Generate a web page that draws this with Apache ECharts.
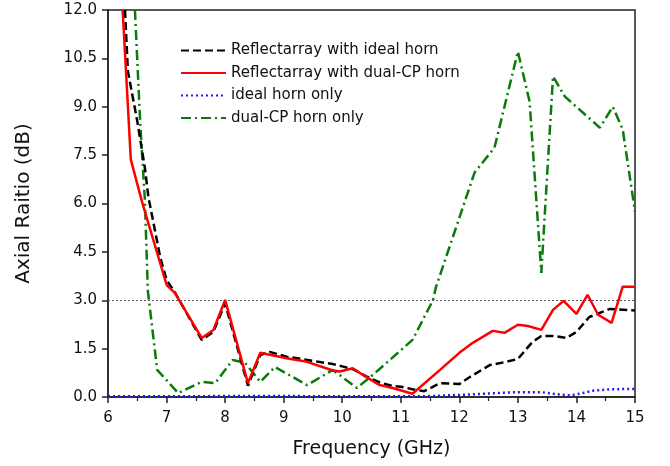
<!DOCTYPE html>
<html>
<head>
<meta charset="utf-8">
<script src="https://cdn.jsdelivr.net/npm/echarts@6/dist/echarts.min.js"></script>
<style>
html,body{margin:0;padding:0;background:#fff;}
#c{width:670px;height:466px;}
</style>
</head>
<body>
<div id="c"></div>
<script>
// Frequency (GHz) / Axial ratio (dB) readings for each series
var freqIdeal = [6.29, 6.34, 6.5, 6.63, 6.69, 6.89, 7.0, 7.14, 7.6, 7.8, 8.0, 8.39, 8.6, 8.76, 9.05, 9.4, 9.84, 10.0, 10.2, 10.4, 10.64, 10.86, 11.0, 11.2, 11.4, 11.67, 12.0, 12.18, 12.52, 12.8, 13.0, 13.25, 13.4, 13.63, 13.83, 14.0, 14.22, 14.57, 15.0];
var arIdeal   = [12.0, 10.1, 8.55, 7.1, 6.2, 4.35, 3.63, 3.25, 1.77, 2.02, 2.9, 0.35, 1.3, 1.4, 1.25, 1.15, 1.02, 0.95, 0.85, 0.65, 0.45, 0.34, 0.32, 0.24, 0.18, 0.43, 0.4, 0.62, 0.99, 1.09, 1.18, 1.71, 1.89, 1.89, 1.83, 2.02, 2.48, 2.73, 2.68];

var freqDual = [6.25, 6.39, 6.58, 7.0, 7.14, 7.6, 7.8, 8.0, 8.39, 8.6, 9.05, 9.4, 9.84, 9.96, 10.18, 10.4, 10.64, 10.86, 11.2, 11.67, 12.0, 12.23, 12.57, 12.77, 13.0, 13.17, 13.4, 13.6, 13.78, 14.0, 14.19, 14.37, 14.6, 14.79, 15.0];
var arDual   = [12.0, 7.36, 6.06, 3.48, 3.23, 1.83, 2.08, 3.01, 0.43, 1.37, 1.2, 1.09, 0.82, 0.79, 0.89, 0.63, 0.37, 0.28, 0.1, 0.84, 1.37, 1.68, 2.05, 1.99, 2.24, 2.2, 2.08, 2.7, 2.98, 2.58, 3.17, 2.55, 2.3, 3.42, 3.42];

var freqHorn = [6.0, 7.0, 8.0, 9.0, 10.0, 11.0, 11.4, 11.8, 12.2, 12.6, 13.0, 13.4, 13.7, 13.9, 14.1, 14.3, 14.6, 15.0];
var arHorn   = [0.02, 0.02, 0.03, 0.03, 0.02, 0.02, 0.02, 0.05, 0.08, 0.12, 0.15, 0.15, 0.08, 0.05, 0.12, 0.2, 0.24, 0.25];

var freqDualHorn = [6.46, 6.55, 6.63, 6.68, 6.84, 7.2, 7.6, 7.83, 8.13, 8.34, 8.6, 8.85, 9.4, 9.84, 10.25, 10.52, 11.2, 11.55, 11.6, 12.26, 12.6, 13.0, 13.2, 13.4, 13.6, 13.8, 14.4, 14.62, 14.79, 15.0];
var arDualHorn   = [12.0, 8.5, 6.1, 3.3, 0.84, 0.12, 0.47, 0.43, 1.15, 1.06, 0.47, 0.93, 0.37, 0.84, 0.28, 0.68, 1.77, 3.0, 3.4, 6.96, 7.73, 10.71, 9.16, 3.85, 9.94, 9.32, 8.35, 9.0, 8.3, 5.75];

var seriesNames = ['Reflectarray with ideal horn', 'Reflectarray with dual-CP horn', 'ideal horn only', 'dual-CP horn only'];
var refLevel = 3.0;

function pairs(xs, ys){ return xs.map(function(x,i){ return [x, ys[i]]; }); }

var chart = echarts.init(document.getElementById('c'), null, {renderer:'canvas'});
var fontFam = '"DejaVu Sans", "Liberation Sans", Arial, sans-serif';
var axisCol = '#222';

chart.setOption({
  animation:false,
  backgroundColor:'#fff',
  grid:{left:108, right:35, top:10, bottom:69, show:true, borderColor:axisCol, borderWidth:1.5},
  legend:{
    orient:'vertical', left:175, top:38, itemWidth:45, itemHeight:16, itemGap:7.5,
    itemStyle:{opacity:0},
    textStyle:{fontFamily:fontFam, fontSize:15, color:'#111'},
    data:seriesNames
  },
  xAxis:{
    type:'value', min:6, max:15, interval:1,
    name:'Frequency (GHz)', nameLocation:'middle', nameGap:43,
    nameTextStyle:{fontFamily:fontFam, fontSize:19, color:'#111'},
    axisLine:{onZero:false, lineStyle:{color:axisCol, width:1.5}},
    axisTick:{show:true, inside:false, length:6, lineStyle:{color:axisCol, width:1.5}},
    minorTick:{show:true, splitNumber:2, length:4, lineStyle:{color:axisCol, width:1.2}},
    axisLabel:{fontFamily:fontFam, fontSize:15, color:'#111', margin:14},
    splitLine:{show:false}
  },
  yAxis:{
    type:'value', min:0, max:12, interval:1.5,
    name:'Axial Raitio (dB)', nameLocation:'middle', nameGap:74, nameRotate:90,
    nameTextStyle:{fontFamily:fontFam, fontSize:20, color:'#111'},
    axisLine:{show:true, onZero:false, lineStyle:{color:axisCol, width:1.5}},
    axisTick:{show:true, inside:false, length:6, lineStyle:{color:axisCol, width:1.5}},
    axisLabel:{fontFamily:fontFam, fontSize:15, color:'#111', margin:11, formatter:function(v){return v.toFixed(1);}},
    splitLine:{show:false}
  },
  series:[
    {name:seriesNames[0], type:'line', data:pairs(freqIdeal, arIdeal), symbol:'none', clip:true, z:4,
     lineStyle:{color:'#000', width:2.5, type:[8,4]}, itemStyle:{color:'#000'},
     markLine:{silent:true, symbol:'none', label:{show:false},
       lineStyle:{color:'#555', width:1, type:[2,2]}, data:[{yAxis:refLevel}]}},
    {name:seriesNames[1], type:'line', data:pairs(freqDual, arDual), symbol:'none', clip:true, z:5,
     lineStyle:{color:'#f00', width:2.5, type:'solid'}, itemStyle:{color:'#f00'}},
    {name:seriesNames[2], type:'line', data:pairs(freqHorn, arHorn), symbol:'none', clip:true, z:3,
     lineStyle:{color:'#1a1aff', width:2.5, type:[2,3]}, itemStyle:{color:'#1a1aff'}},
    {name:seriesNames[3], type:'line', data:pairs(freqDualHorn, arDualHorn), symbol:'none', clip:true, z:2,
     lineStyle:{color:'#0a7a0a', width:2.5, type:[10,4,2,4]}, itemStyle:{color:'#0a7a0a'}}
  ]
});
</script>
</body>
</html>
